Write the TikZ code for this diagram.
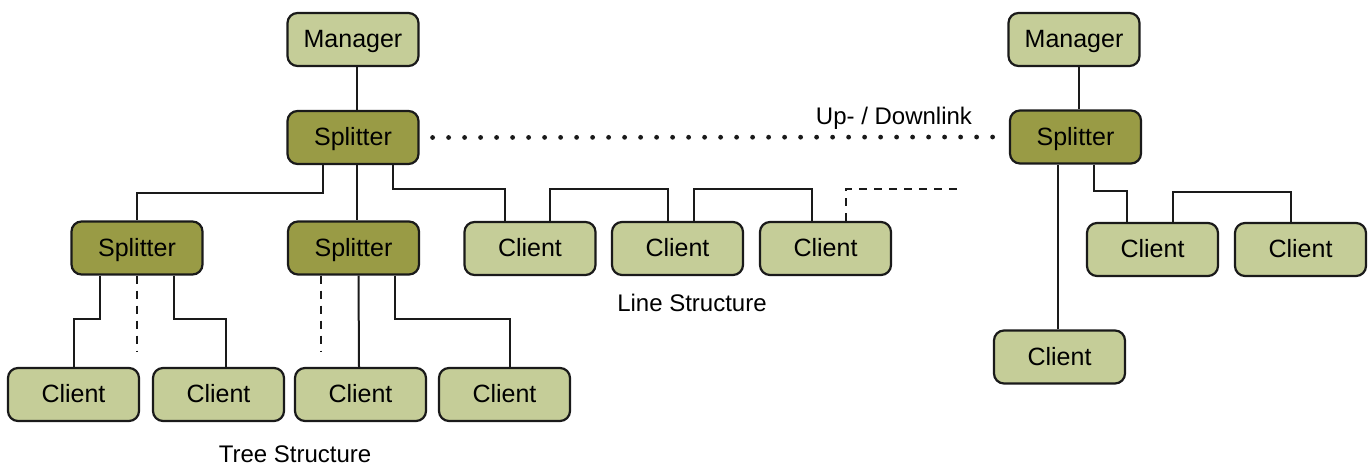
\documentclass[tikz,border=0pt]{standalone}
\usepackage{fontspec}
\setmainfont{Liberation Sans}
\definecolor{lightg}{HTML}{C5CD98}
\definecolor{darkg}{HTML}{999B45}
\definecolor{edge}{HTML}{1A1A1A}
\tikzset{
  box/.style={draw=edge, line width=2.2pt, rounded corners=10pt, minimum width=131pt, minimum height=53pt, inner sep=0pt, text height=16pt, text depth=0pt, font=\fontsize{25}{29}\selectfont},
  client/.style={box, fill=lightg},
  splitbox/.style={box, fill=darkg},
  conn/.style={draw=edge, line width=2pt},
  dashconn/.style={draw=edge, line width=2pt, dash pattern=on 8pt off 7pt},
  dotconn/.style={draw=edge, line width=4.8pt, line cap=round, dash pattern=on 0pt off 16pt},
  lbl/.style={font=\fontsize{24}{28}\selectfont, inner sep=0pt, anchor=base}
}
\begin{document}
\begin{tikzpicture}[x=1pt,y=-1pt]
\useasboundingbox (0,0) rectangle (1371,466);
% left tree
\node[client] (mgrL) at (353,39.5) {Manager};
\node[splitbox] (splL) at (353,137.5) {Splitter};
\node[splitbox] (splA) at (137,248) {Splitter};
\node[splitbox] (splB) at (353.5,248) {Splitter};
\node[client] (c1) at (73.5,394.5) {Client};
\node[client] (c2) at (218.5,394.5) {Client};
\node[client] (c3) at (360.5,394.5) {Client};
\node[client] (c4) at (504.5,394.5) {Client};
\node[client] (l1) at (530,248.5) {Client};
\node[client] (l2) at (677.5,248.5) {Client};
\node[client] (l3) at (825.5,248.5) {Client};
% right tree
\node[client] (mgrR) at (1074,39.5) {Manager};
\node[splitbox] (splR) at (1075.5,137) {Splitter};
\node[client] (ra) at (1152.5,249.5) {Client};
\node[client] (rb) at (1300.5,249.5) {Client};
\node[client] (rc) at (1059.5,357) {Client};
% labels
\node[lbl] (updown) at (894,124) {Up- / Downlink};
\node[lbl] (linelbl) at (692,311) {Line Structure};
\node[lbl] (treelbl) at (295,462) {Tree Structure};
% connectors left
\draw[conn] ([xshift=4pt]mgrL.south) -- ([xshift=4pt]splL.north);
\draw[conn] ([xshift=-30pt]splL.south) -- ++(0,28) -| (splA.north);
\draw[conn] ([xshift=4pt]splL.south) -- ([xshift=3.5pt]splB.north);
\draw[conn] ([xshift=40pt]splL.south) -- ++(0,24) -| ([xshift=-25pt]l1.north);
\draw[conn] ([xshift=20pt]l1.north) -- ++(0,-32) -| ([xshift=-9.5pt]l2.north);
\draw[conn] ([xshift=16.5pt]l2.north) -- ++(0,-32) -| ([xshift=-13.5pt]l3.north);
\coordinate (lfree) at (963,189);
\draw[dashconn] ([xshift=20.5pt]l3.north) |- (lfree);
\draw[conn] ([xshift=-37pt]splA.south) -- ++(0,43) -| (c1.north);
\coordinate (dA) at (137,352);
\draw[dashconn] (splA.south) -- (dA);
\draw[conn] ([xshift=37pt]splA.south) -- ++(0,43) -| ([xshift=7.5pt]c2.north);
\coordinate (dB) at (321,352);
\draw[dashconn] ([xshift=-32.5pt]splB.south) -- (dB);
\draw[conn] ([xshift=-1.5pt]c3.north) -- ([xshift=5pt]splB.south);
\draw[conn] ([xshift=41.5pt]splB.south) -- ++(0,43) -| ([xshift=5.5pt]c4.north);
% connectors right
\draw[conn] ([xshift=5pt]mgrR.south) -- ([xshift=3.5pt]splR.north);
\draw[conn] ([xshift=-1.5pt]rc.north) -- ([xshift=-17.5pt]splR.south);
\draw[conn] ([xshift=18.5pt]splR.south) -- ++(0,26) -| ([xshift=-25.5pt]ra.north);
\draw[conn] ([xshift=20.5pt]ra.north) -- ++(0,-30) -| ([xshift=-9.5pt]rb.north);
% uplink
\draw[dotconn] ([xshift=13pt]splL.east) -- ([xshift=-8pt]splR.west);
\end{tikzpicture}
\end{document}
